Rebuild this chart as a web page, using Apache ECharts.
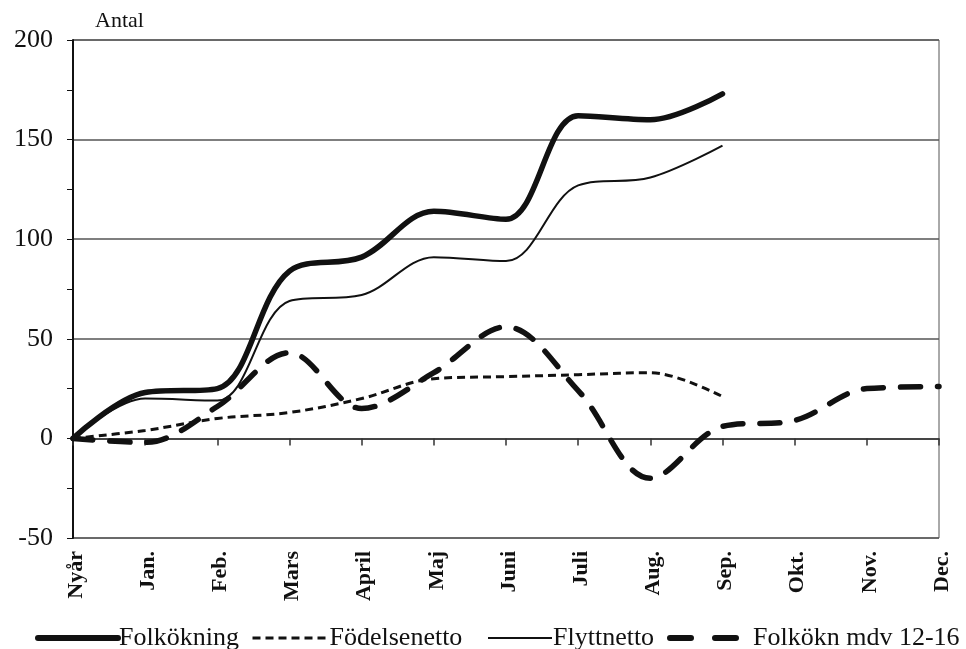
<!DOCTYPE html>
<html>
<head>
<meta charset="utf-8">
<script src="https://cdn.jsdelivr.net/npm/echarts@6/dist/echarts.min.js"></script>
<style>
html,body{margin:0;padding:0;background:#fff;}
#chart{width:966px;height:649px;}
</style>
</head>
<body>
<div id="chart"></div>
<script>
var categories = ['Nyår','Jan.','Feb.','Mars','April','Maj','Juni','Juli','Aug.','Sep.','Okt.','Nov.','Dec.'];
var folkokning = [0, 23, 25, 84, 91, 114, 110, 162, 160, 173];
var fodelsenetto = [0, 4, 10, 13, 20, 30, 31, 32, 33, 21];
var flyttnetto = [0, 20, 19, 69, 72, 91, 89, 127, 131, 147];
var folkoknMdv = [0, -2, 16, 43, 15, 33, 56, 24, -20, 6, 9, 25, 26];
var yTicks = {min: -50, max: 200, interval: 50};

var serif = 'Liberation Serif';
var smoothness = 0.35;
var chart = echarts.init(document.getElementById('chart'));

function legendFor(name, left, w, lineStyle, textPad) {
  return {
    data: [name], left: left, top: 620, itemWidth: w, itemHeight: 14, itemGap: 0,
    itemStyle: {color: 'rgba(0,0,0,0)', borderWidth: 0, opacity: 0},
    lineStyle: lineStyle,
    textStyle: {fontFamily: serif, fontSize: 26, color: '#111', padding: [0, 0, 0, textPad]}
  };
}

chart.setOption({
  animation: false,
  backgroundColor: '#fff',
  grid: {left: 73, right: 27, top: 40, bottom: 111, show: true, borderColor: '#555', borderWidth: 1},
  legend: [
    legendFor('Folkökning', 30, 80, {color: '#111', width: 6, type: 'solid', cap: 'round'}, -4),
    legendFor('Födelsenetto', 246, 76, {color: '#111', width: 3, type: [8, 5]}, -4),
    legendFor('Flyttnetto', 482, 64, {color: '#111', width: 2, type: 'solid'}, -4),
    legendFor('Folkökn mdv 12-16', 662, 70, {color: '#111', width: 6, type: [21, 24], cap: 'round'}, 8)
  ],
  xAxis: [{
    type: 'category', data: categories, boundaryGap: false, position: 'bottom',
    axisLine: {show: false, onZero: false}, axisTick: {show: false},
    axisLabel: {rotate: 90, fontFamily: serif, fontSize: 22, fontWeight: 'bold', color: '#111', margin: 13, interval: 0,
                verticalAlign: 'top', lineHeight: 6}
  }, {
    type: 'category', data: categories, boundaryGap: false, position: 'bottom',
    axisLine: {show: true, onZero: true, lineStyle: {color: '#333', width: 1.5}},
    axisTick: {show: true, length: 7, interval: 0, lineStyle: {color: '#333', width: 1.5}},
    axisLabel: {show: false}, splitLine: {show: false}
  }],
  yAxis: {
    type: 'value', min: yTicks.min, max: yTicks.max, interval: yTicks.interval,
    name: 'Antal', nameLocation: 'end', nameGap: 8,
    nameTextStyle: {fontFamily: serif, fontSize: 22, color: '#111', align: 'left', padding: [0, 0, 0, 22]},
    axisLine: {show: true, lineStyle: {color: '#111', width: 2}},
    axisTick: {show: true, length: 6, lineStyle: {color: '#111'}},
    minorTick: {show: true, splitNumber: 2, length: 6, lineStyle: {color: '#111'}},
    axisLabel: {fontFamily: serif, fontSize: 26, color: '#111', margin: 20},
    splitLine: {show: true, lineStyle: {color: '#555', width: 1.5}}
  },
  series: [{
    name: 'Folkökning', type: 'line', data: folkokning, smooth: smoothness, symbol: 'none', z: 4,
    lineStyle: {color: '#111', width: 5.5, cap: 'round'}, itemStyle: {color: '#111'}
  }, {
    name: 'Födelsenetto', type: 'line', data: fodelsenetto, smooth: smoothness, symbol: 'none', z: 3,
    lineStyle: {color: '#111', width: 3, type: [8, 5]}, itemStyle: {color: '#111'}
  }, {
    name: 'Flyttnetto', type: 'line', data: flyttnetto, smooth: smoothness, symbol: 'none', z: 3,
    lineStyle: {color: '#111', width: 2}, itemStyle: {color: '#111'}
  }, {
    name: 'Folkökn mdv 12-16', type: 'line', data: folkoknMdv, smooth: smoothness, symbol: 'none', z: 3,
    lineStyle: {color: '#111', width: 5.5, type: [20, 17], cap: 'round'}, itemStyle: {color: '#111'}
  }]
});
</script>
</body>
</html>
